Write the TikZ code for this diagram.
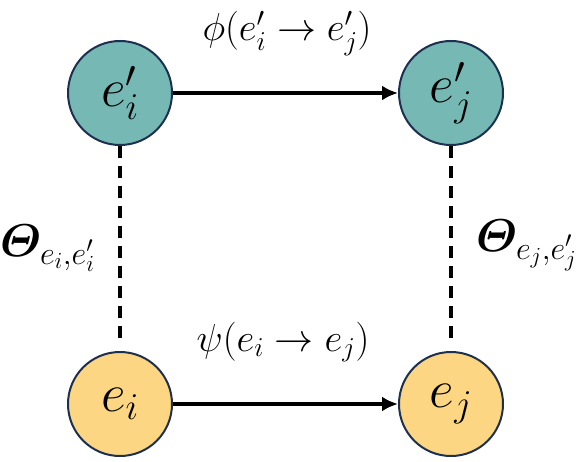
\documentclass[tikz,border=0pt]{standalone}
\usepackage{fix-cm}
\usepackage{amsmath,bm}
\usetikzlibrary{positioning,arrows.meta}
\definecolor{tealFill}{RGB}{117,184,180}
\definecolor{yellowFill}{RGB}{252,214,130}
\definecolor{navyLine}{RGB}{30,48,80}
\tikzset{
  entNode/.style={circle, draw=navyLine, line width=2pt, minimum size=104pt, inner sep=0pt,
    font=\fontsize{54}{60}\selectfont},
  tealNode/.style={entNode, fill=tealFill},
  yellowNode/.style={entNode, fill=yellowFill},
  mapArrow/.style={line width=3.2pt, -{Latex[length=16pt,width=15pt]}},
  corrLine/.style={line width=3.2pt, dash pattern=on 12pt off 8pt},
  mapLabel/.style={font=\fontsize{39}{44}\selectfont, anchor=base, inner sep=0pt},
  corrLabel/.style={font=\fontsize{46}{52}\selectfont, anchor=base west, inner sep=0pt}
}

\begin{document}
\begin{tikzpicture}[x=1pt, y=1pt, node distance=205pt and 225pt]
  \useasboundingbox (0,0) rectangle (585,461);
  \node [yellowNode] (ei) at (120,57) {$e_i$};
  \node [yellowNode, right=of ei] (ej) {$e_j$};
  \node [tealNode, above=of ei] (pi) {$e_i'$};
  \node [tealNode, above=of ej] (pj) {$e_j'$};
  \draw [mapArrow] (pi) -- (pj);
  \draw [mapArrow] (ei) -- (ej);
  \draw [corrLine, shorten >=8pt] (pi) -- (ei);
  \draw [corrLine, shorten >=8pt] (pj) -- (ej);
  \node [mapLabel] (phiLab) at (287,420) {$\phi(e_i' \rightarrow e_j')$};
  \node [mapLabel] (psiLab) at (283,110) {$\psi(e_i \rightarrow e_j)$};
  \node [corrLabel] (thetaI) at (0,205) {$\bm{\varTheta}_{e_i,e_i'}$};
  \node [corrLabel] (thetaJ) at (476,210) {$\bm{\varTheta}_{e_j,e_j'}$};
\end{tikzpicture}
\end{document}
